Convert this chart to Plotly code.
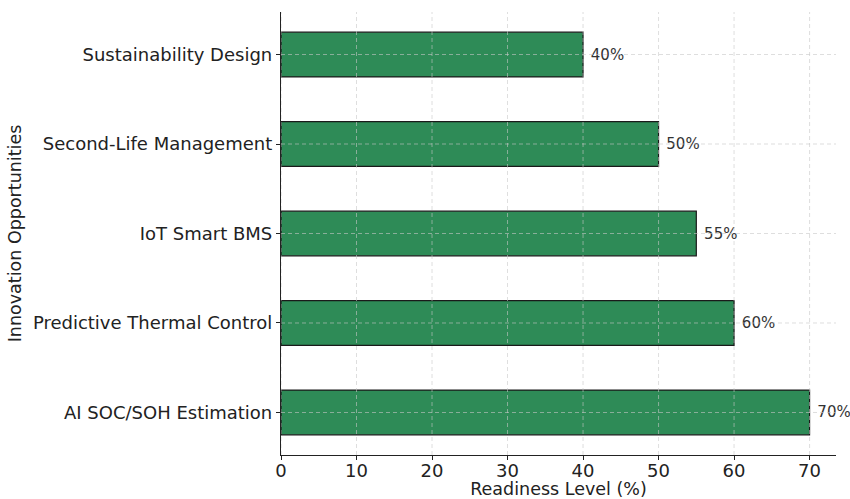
import plotly.graph_objects as go

categories = ["AI SOC/SOH Estimation", "Predictive Thermal Control", "IoT Smart BMS",
              "Second-Life Management", "Sustainability Design"]
readiness = [70, 60, 55, 50, 40]
x_ticks = [0, 10, 20, 30, 40, 50, 60, 70]

fig = go.Figure()
fig.add_trace(go.Bar(
    y=categories, x=readiness, orientation="h", width=0.5,
    marker=dict(color="#2e8b57", line=dict(color="#1a1a1a", width=1.2)),
    text=[f" {v}%" for v in readiness], textposition="outside",
    textfont=dict(family="DejaVu Sans", size=15, color="#333333"),
    cliponaxis=False,
))

grid_style = dict(color="rgba(200,200,200,0.75)", width=0.8, dash="4px,3px")
for t in x_ticks:
    fig.add_shape(type="line", xref="x", yref="paper", x0=t, x1=t, y0=0, y1=1,
                  line=grid_style, layer="above")
for c in categories:
    fig.add_shape(type="line", xref="paper", yref="y", x0=0, x1=1, y0=c, y1=c,
                  line=grid_style, layer="above")

fig.update_layout(
    width=850, height=499,
    margin=dict(l=281, r=14, t=12, b=44),
    plot_bgcolor="white", paper_bgcolor="white",
    showlegend=False,
    font=dict(family="DejaVu Sans", size=18, color="#222222"),
    xaxis=dict(range=[0, 73.5], tickvals=x_ticks, showgrid=False, zeroline=False,
               showline=True, linecolor="#222222", linewidth=1.3,
               ticks="outside", ticklen=4, tickcolor="#222222", automargin=False,
               tickfont=dict(size=18), ticklabelstandoff=-5,
               title=dict(text="Readiness Level (%)", standoff=2, font=dict(size=17.5))),
    yaxis=dict(range=[-0.475, 4.475], showgrid=False, zeroline=False,
               showline=True, linecolor="#222222", linewidth=1.3,
               ticks="outside", ticklen=4, tickcolor="#222222", automargin=False,
               tickfont=dict(size=18),
               title=dict(text="Innovation Opportunities", standoff=6, font=dict(size=17.5))),
)

fig.write_html("out.html")
